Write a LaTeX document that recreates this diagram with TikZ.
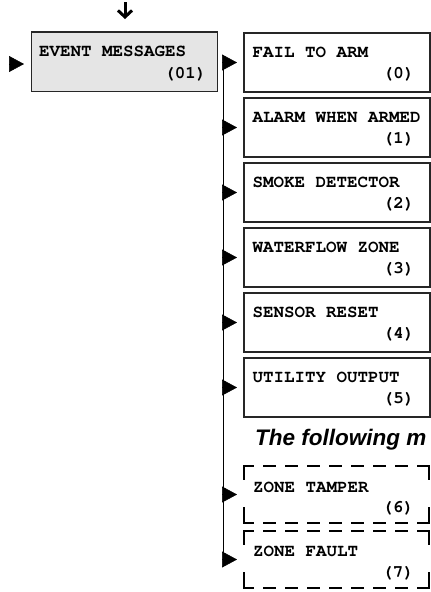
\documentclass[tikz,border=0pt]{standalone}
\usepackage[T1,TU]{fontenc}
\usepackage{fontspec}
\newfontfamily\sansfam{Liberation Sans}
\newcommand\courbold{\fontencoding{T1}\fontfamily{pcr}\fontseries{b}\fontshape{n}\fontsize{17.5}{20}\selectfont}
\usetikzlibrary{arrows.meta,calc}
\begin{document}
\begin{tikzpicture}[x=1pt,y=-1pt,
  box/.style={draw=black!85, line width=1.2pt, rectangle, anchor=north west,
    minimum width=186pt, minimum height=59pt, inner sep=0pt, outer sep=0pt},
  evbox/.style={box, fill=black!10, minimum width=185.6pt, minimum height=59.7pt},
  dbox/.style={rectangle, anchor=north west, minimum width=185pt,
    minimum height=57pt, inner sep=0pt, outer sep=0pt},
  lab/.style={font=\courbold, inner sep=0pt, anchor=base west},
  num/.style={lab, anchor=base east},
  tri/.style={-{Triangle[length=15pt,width=16pt]}, line width=0.5pt, shorten >=7pt},
  spine/.style={line width=1.2pt},
  dashh/.style={line width=2.2pt, line cap=rect, dash pattern=on 11pt off 11pt, dash phase=2pt},
  dashv/.style={line width=2.2pt, line cap=rect, dash pattern=on 13pt off 29pt},
  note/.style={font=\sansfam\bfseries\itshape\fontsize{22.5}{26}\selectfont,
    anchor=base west, inner sep=0pt},
]
\useasboundingbox (0,0) rectangle (431,592);

% top arrow
\coordinate (a0) at (125,2);
\coordinate (a1) at (125,19);
\draw[line width=3pt, -{Straight Barb[length=6.5pt,width=14pt]}] (a0) -- (a1);

% event box
\node[evbox] (ev) at (31.7,32) {};
\node[lab] (evt) at ($(ev.north west)+(7.3,24.5)$) {EVENT MESSAGES};
\node[num] (evn) at ($(ev.north west)+(174.8,46)$) {(01)};
\coordinate (in) at (9,64);
\draw[tri, shorten >=7.7pt] (in) -- (in -| ev.west);

% spine coordinate
\coordinate (sp) at (223.3,63);

% solid boxes
\foreach \i/\t in {0/FAIL TO ARM, 1/ALARM WHEN ARMED, 2/SMOKE DETECTOR,
                   3/WATERFLOW ZONE, 4/SENSOR RESET, 5/UTILITY OUTPUT} {
  \node[box] (b\i) at ({244},{33+65*\i}) {};
  \node[lab] (t\i) at ($(b\i.north west)+(8.5,24)$) {\t};
  \node[num] (n\i) at ($(b\i.north west)+(170.5,45)$) {(\i)};
}

% note
\node[note] (nt) at (255,445) {The following m};

% dashed boxes
\node[dbox] (d6) at (244,466) {};
\node[dbox] (d7) at (244,531) {};
\foreach \d in {d6,d7} {
  \draw[dashh] (\d.north west) -- (\d.north east);
  \draw[dashh] (\d.south west) -- (\d.south east);
  \draw[dashv] (\d.north west) -- (\d.south west);
  \draw[dashv] (\d.north east) -- (\d.south east);
}
\node[lab] (t6) at ($(d6.north west)+(9,26)$) {ZONE TAMPER};
\node[num] (n6) at ($(d6.north west)+(170,46)$) {(6)};
\node[lab] (t7) at ($(d7.north west)+(9,25)$) {ZONE FAULT};
\node[num] (n7) at ($(d7.north west)+(170,46)$) {(7)};

% spine and connectors
\draw[spine] (sp) -- ($(d7.west -| sp)+(0,6)$);
\foreach \b in {b0,b1,b2,b3,b4,b5,d6,d7} {
  \draw[tri] (\b.west -| sp) -- (\b.west);
}
\end{tikzpicture}
\end{document}
